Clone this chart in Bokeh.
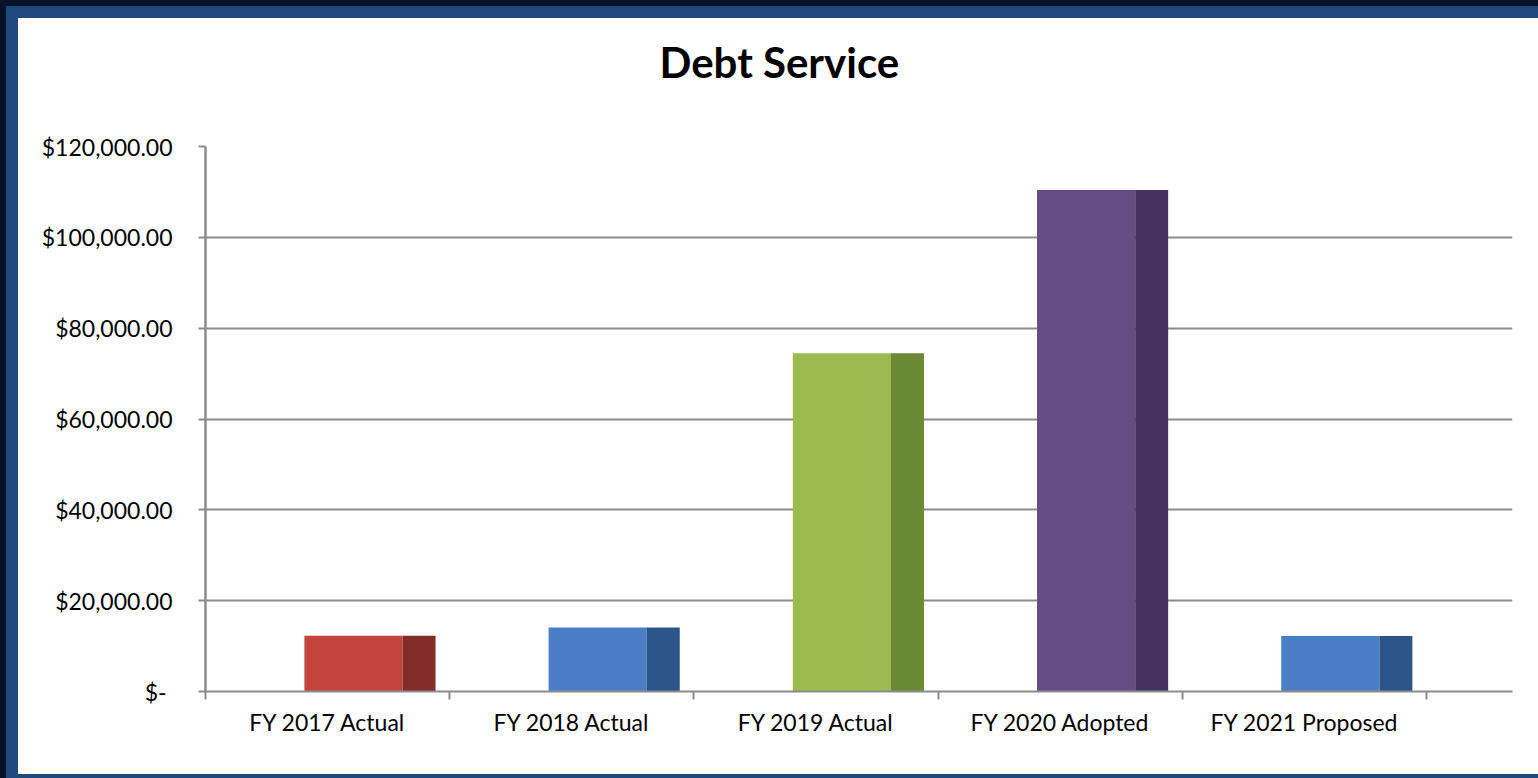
from bokeh.plotting import figure
from bokeh.models import FixedTicker, Range1d, Title
from bokeh.embed import file_html
from bokeh.resources import INLINE

# ---- data ----
categories = ["FY 2017 Actual", "FY 2018 Actual", "FY 2019 Actual", "FY 2020 Adopted", "FY 2021 Proposed"]
values = [12300, 14100, 74500, 110400, 12200]
front_colors = ["#C4443B", "#4A7EC6", "#9BBB50", "#654C84", "#4A7EC6"]
side_colors = ["#822D27", "#2B5489", "#6B8A35", "#46325F", "#2B5489"]
y_ticks = [0, 20000, 40000, 60000, 80000, 100000, 120000]
y_tick_labels = ["$-\u00a0", "$20,000.00", "$40,000.00", "$60,000.00", "$80,000.00", "$100,000.00", "$120,000.00"]
title_text = "Debt Service"

W, H = 1538, 778
NAVY = "#06122A"
BAND = "#1F497D"
GRID = "#8C8C8C"
FONT = "Lato"

n = len(categories)
p = figure(width=W, height=H, output_backend="svg", toolbar_location=None,
           x_range=Range1d(0, 5.352), y_range=Range1d(0, 120000),
           min_border_left=205, min_border_right=26, min_border_top=146, min_border_bottom=87)
p.outline_line_color = None
p.background_fill_color = "white"
p.border_fill_alpha = 0
p.styles = {
    "background": (
        "linear-gradient(#ffffff, #ffffff) 18px 18px / 1520px 756px no-repeat, "
        f"linear-gradient({BAND}, {BAND}) 6px 6px / 1532px 772px no-repeat, "
        f"{NAVY}"
    )
}

# spacer between title and plot area
p.add_layout(Title(text="\u00a0", text_font=FONT, text_font_size="20px", standoff=34), "above")

# title
p.title.text = title_text
p.title.align = "left"
p.title.offset = 454
p.title.standoff = 0
p.title.text_font = FONT
p.title.text_font_style = "bold"
p.title.text_font_size = "42px"
p.title.text_color = "black"

# bars: front face + darker side face
idx = list(range(n))
p.quad(left=[i + 0.405 for i in idx], right=[i + 0.807 for i in idx],
       bottom=[0] * n, top=values, fill_color=front_colors, line_color=None)
p.quad(left=[i + 0.807 for i in idx], right=[i + 0.942 for i in idx],
       bottom=[0] * n, top=values, fill_color=side_colors, line_color=None)

# axes
xa = p.xaxis[0]
xa.ticker = FixedTicker(ticks=[i + 0.5 for i in idx], minor_ticks=list(range(n + 1)))
xa.major_label_overrides = {i + 0.5: c for i, c in zip(idx, categories)}
xa.major_tick_line_color = None
xa.minor_tick_out = 8
xa.minor_tick_in = 0
xa.minor_tick_line_color = GRID
xa.minor_tick_line_width = 2
xa.axis_line_color = GRID
xa.axis_line_width = 2
xa.major_label_text_font = FONT
xa.major_label_text_font_size = "23px"
xa.major_label_text_color = "black"
xa.major_label_standoff = 8

ya = p.yaxis[0]
ya.ticker = FixedTicker(ticks=y_ticks, minor_ticks=[])
ya.major_label_overrides = {t: l for t, l in zip(y_ticks, y_tick_labels)}
ya.major_tick_out = 7
ya.major_tick_in = 0
ya.major_tick_line_color = GRID
ya.major_tick_line_width = 2
ya.minor_tick_line_color = None
ya.axis_line_color = GRID
ya.axis_line_width = 2.5
ya.major_label_text_font = FONT
ya.major_label_text_font_size = "23px"
ya.major_label_text_color = "black"
ya.major_label_standoff = 26

p.xgrid.visible = False
p.ygrid.grid_line_color = GRID
p.ygrid.grid_line_width = 2

open("out.html", "w").write(file_html(p, INLINE))
